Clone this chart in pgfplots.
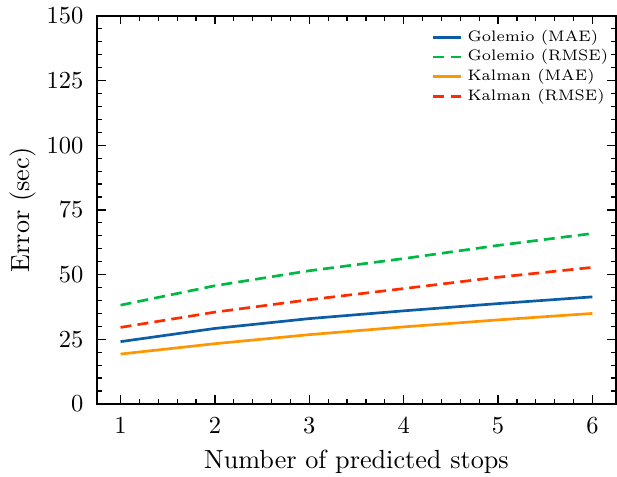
\documentclass[border=0pt]{standalone}
\usepackage{pgfplots}
\pgfplotsset{compat=1.18}

\definecolor{sciblue}{HTML}{0C5DA5}
\definecolor{scigreen}{HTML}{00B945}
\definecolor{sciorange}{HTML}{FF9500}
\definecolor{scired}{HTML}{FF2C00}

\begin{document}
\begin{tikzpicture}
\begin{axis}[
    name=ax,
    scale only axis,
    width=212pt, height=158.5pt,
    xmin=0.75, xmax=6.25,
    ymin=0, ymax=150,
    xtick={1,2,3,4,5,6},
    ytick={0,25,50,75,100,125,150},
    minor x tick num=4,
    minor y tick num=4,
    tick align=inside,
    tick pos=both,
    major tick length=3.5pt,
    minor tick length=2pt,
    axis line style={line width=0.6pt},
    every tick/.style={black, line width=0.5pt},
    xticklabel style={yshift=-2pt},
    yticklabel style={xshift=-2pt},
    xlabel={Number of predicted stops},
    ylabel={Error (sec)},
    label style={font=\fontsize{10.7}{12}\selectfont},
    ylabel style={yshift=-2.6pt},
    legend cell align=left,
    legend style={at={(1,1)}, anchor=north east, xshift=2pt, yshift=-1.5pt,
        draw=none, fill=none, font=\fontsize{6.2}{8}\selectfont,
        row sep=-2.1pt},
    legend image code/.code={\draw[#1, line width=1.1pt] (0cm,0cm) -- (0.4cm,0cm);},
]
\addplot[sciblue, line width=1.1pt] coordinates {
    (1,24.1) (2,29.2) (3,33.0) (4,36.0) (5,38.8) (6,41.4)
};
\addplot[scigreen, line width=1.1pt, dash pattern=on 4.5pt off 2.5pt] coordinates {
    (1,38.2) (2,45.7) (3,51.5) (4,56.2) (5,61.3) (6,65.9)
};
\addplot[sciorange, line width=1.1pt] coordinates {
    (1,19.3) (2,23.3) (3,26.8) (4,29.8) (5,32.5) (6,35.0)
};
\addplot[scired, line width=1.1pt, dash pattern=on 4.5pt off 2.5pt] coordinates {
    (1,29.6) (2,35.5) (3,40.3) (4,44.6) (5,49.0) (6,52.8)
};
\legend{Golemio (MAE), Golemio (RMSE), Kalman (MAE), Kalman (RMSE)}
\end{axis}
\pgfresetboundingbox
\path[use as bounding box] ([shift={(-39.6pt,-29.8pt)}]ax.south west)
    rectangle ([shift={(0.4pt,6.5pt)}]ax.north east);
\end{tikzpicture}
\end{document}
